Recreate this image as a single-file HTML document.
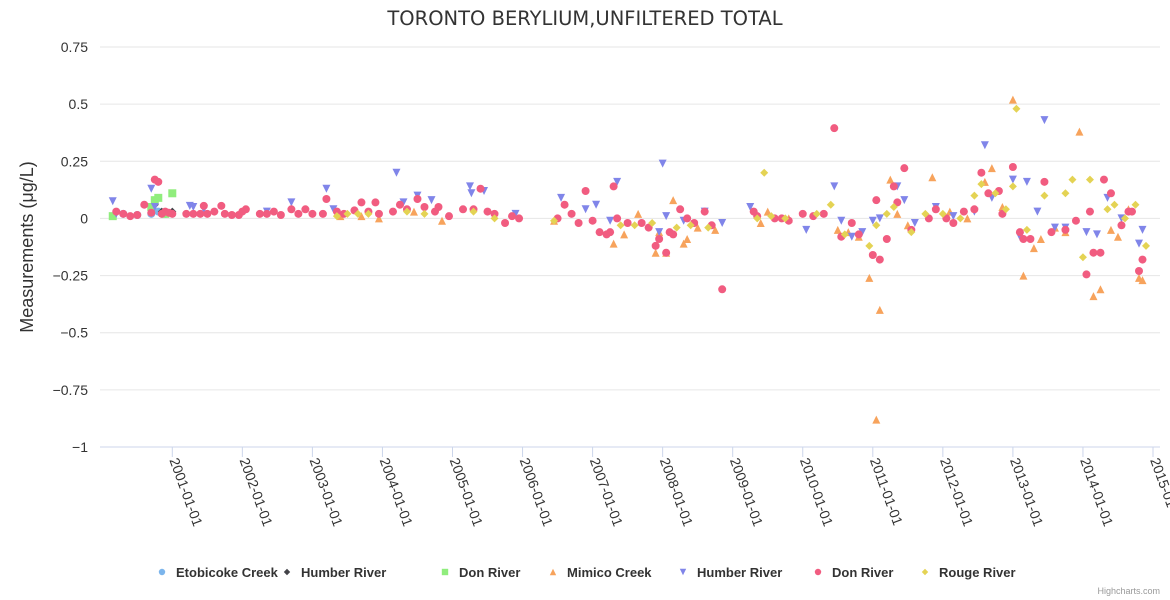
<!DOCTYPE html>
<html><head><meta charset="utf-8">
<style>
html,body{margin:0;padding:0;background:#fff;}
svg{display:block;font-family:"Liberation Sans","DejaVu Sans",sans-serif;}
</style></head>
<body>
<svg id="chart" width="1170" height="600" viewBox="0 0 1170 600">
<text x="585" y="25" text-anchor="middle" font-size="19.5" fill="#333" style="font-family:'DejaVu Sans',sans-serif">TORONTO BERYLIUM,UNFILTERED TOTAL</text>
<text transform="translate(33,247) rotate(-90)" text-anchor="middle" font-size="18" fill="#333">Measurements (μg/L)</text>
<g id="grid"></g><g id="xaxis"></g><g id="marks"></g><g id="legend"></g>
<text x="1160" y="594" text-anchor="end" font-size="9" fill="#999">Highcharts.com</text>
</svg>
<script>
const yTicks=[0.75,0.5,0.25,0,-0.25,-0.5,-0.75,-1];
const yTickLabels=["0.75","0.5","0.25","0","−0.25","−0.5","−0.75","−1"];
const xTickYears=[2001,2002,2003,2004,2005,2006,2007,2008,2009,2010,2011,2012,2013,2014,2015];
const xTickLabels=["2001-01-01","2002-01-01","2003-01-01","2004-01-01","2005-01-01","2006-01-01","2007-01-01","2008-01-01","2009-01-01","2010-01-01","2011-01-01","2012-01-01","2013-01-01","2014-01-01","2015-01-01"];
const seriesNames=["Etobicoke Creek","Humber River","Don River","Mimico Creek","Humber River","Don River","Rouge River"];
const etobicokeData=[[2000.3,0.02],[2000.5,0.015],[2000.7,0.02],[2000.8,0.03],[2000.9,0.02]];
const humberBlackData=[[2000.75,0.06],[2000.85,0.03],[2001.0,0.03]];
const donGreenData=[[2000.15,0.01],[2000.7,0.05],[2000.75,0.08],[2000.8,0.09],[2000.9,0.02],[2001.0,0.11]];
const mimicoData=[[2003.4,0.01],[2003.7,0.01],[2003.95,0.0],[2004.45,0.03],[2004.85,-0.01],[2006.45,-0.01],[2007.3,-0.11],[2007.45,-0.07],[2007.65,0.02],[2007.9,-0.15],[2007.95,-0.06],[2008.05,-0.15],[2008.15,0.08],[2008.3,-0.11],[2008.35,-0.09],[2008.5,-0.04],[2008.75,-0.05],[2009.4,-0.02],[2009.5,0.03],[2009.8,0.0],[2010.5,-0.05],[2010.65,-0.06],[2010.8,-0.08],[2010.95,-0.26],[2011.05,-0.88],[2011.1,-0.4],[2011.25,0.17],[2011.35,0.02],[2011.5,-0.03],[2011.85,0.18],[2012.1,0.03],[2012.35,0.0],[2012.6,0.16],[2012.7,0.22],[2012.85,0.05],[2013.0,0.52],[2013.15,-0.25],[2013.3,-0.13],[2013.4,-0.09],[2013.6,-0.04],[2013.75,-0.06],[2013.95,0.38],[2014.15,-0.34],[2014.25,-0.31],[2014.4,-0.05],[2014.5,-0.08],[2014.65,0.04],[2014.8,-0.26],[2014.85,-0.27]];
const humberData=[[2000.15,0.075],[2000.2,0.02],[2000.7,0.13],[2000.75,0.05],[2001.25,0.055],[2001.3,0.05],[2001.45,0.04],[2002.35,0.03],[2002.7,0.07],[2003.2,0.13],[2003.3,0.04],[2004.2,0.2],[2004.3,0.07],[2004.5,0.1],[2004.7,0.08],[2005.25,0.14],[2005.27,0.11],[2005.45,0.12],[2005.9,0.02],[2006.55,0.09],[2006.9,0.04],[2007.05,0.06],[2007.25,-0.01],[2007.35,0.16],[2007.95,-0.06],[2008.0,0.24],[2008.05,0.01],[2008.3,-0.01],[2008.6,0.03],[2008.85,-0.02],[2009.25,0.05],[2010.05,-0.05],[2010.45,0.14],[2010.55,-0.01],[2010.7,-0.08],[2010.85,-0.06],[2011.0,-0.01],[2011.1,0.0],[2011.35,0.14],[2011.45,0.08],[2011.6,-0.02],[2011.9,0.05],[2012.15,0.01],[2012.45,0.03],[2012.6,0.32],[2012.7,0.09],[2013.0,0.17],[2013.1,-0.08],[2013.2,0.16],[2013.35,0.03],[2013.45,0.43],[2013.6,-0.04],[2013.75,-0.04],[2014.05,-0.06],[2014.2,-0.07],[2014.35,0.09],[2014.55,0.0],[2014.8,-0.11],[2014.85,-0.05]];
const donData=[[2000.2,0.03],[2000.3,0.02],[2000.4,0.01],[2000.5,0.015],[2000.6,0.06],[2000.7,0.025],[2000.75,0.17],[2000.8,0.16],[2000.85,0.02],[2000.9,0.03],[2000.95,0.025],[2001.0,0.02],[2001.2,0.02],[2001.3,0.02],[2001.4,0.02],[2001.45,0.055],[2001.5,0.02],[2001.6,0.03],[2001.7,0.055],[2001.75,0.02],[2001.85,0.015],[2001.95,0.015],[2002.0,0.03],[2002.05,0.04],[2002.25,0.02],[2002.35,0.02],[2002.45,0.03],[2002.55,0.015],[2002.7,0.04],[2002.8,0.02],[2002.9,0.04],[2003.0,0.02],[2003.15,0.02],[2003.2,0.085],[2003.35,0.03],[2003.45,0.02],[2003.6,0.035],[2003.7,0.07],[2003.8,0.03],[2003.9,0.07],[2003.95,0.02],[2004.15,0.03],[2004.25,0.06],[2004.35,0.04],[2004.5,0.085],[2004.6,0.05],[2004.75,0.03],[2004.8,0.05],[2004.95,0.01],[2005.15,0.04],[2005.3,0.04],[2005.4,0.13],[2005.5,0.03],[2005.6,0.02],[2005.75,-0.02],[2005.85,0.01],[2005.95,0.0],[2006.5,0.0],[2006.6,0.06],[2006.7,0.02],[2006.8,-0.02],[2006.9,0.12],[2007.0,-0.01],[2007.1,-0.06],[2007.2,-0.07],[2007.25,-0.06],[2007.3,0.14],[2007.35,0.0],[2007.5,-0.02],[2007.7,-0.02],[2007.8,-0.04],[2007.9,-0.12],[2007.95,-0.09],[2008.05,-0.15],[2008.1,-0.06],[2008.15,-0.07],[2008.25,0.04],[2008.35,0.0],[2008.45,-0.02],[2008.6,0.03],[2008.7,-0.03],[2008.85,-0.31],[2009.3,0.03],[2009.35,0.01],[2009.6,0.0],[2009.7,0.0],[2009.8,-0.01],[2010.0,0.02],[2010.15,0.01],[2010.3,0.02],[2010.45,0.395],[2010.55,-0.08],[2010.7,-0.02],[2010.8,-0.07],[2011.0,-0.16],[2011.05,0.08],[2011.1,-0.18],[2011.2,-0.09],[2011.3,0.14],[2011.35,0.07],[2011.45,0.22],[2011.55,-0.05],[2011.8,0.0],[2011.9,0.04],[2012.05,0.0],[2012.15,-0.02],[2012.3,0.03],[2012.45,0.04],[2012.55,0.2],[2012.65,0.11],[2012.8,0.12],[2012.85,0.02],[2013.0,0.225],[2013.1,-0.06],[2013.15,-0.09],[2013.25,-0.09],[2013.45,0.16],[2013.55,-0.06],[2013.75,-0.05],[2013.9,-0.01],[2014.05,-0.245],[2014.1,0.03],[2014.15,-0.15],[2014.25,-0.15],[2014.3,0.17],[2014.4,0.11],[2014.55,-0.03],[2014.65,0.03],[2014.7,0.03],[2014.8,-0.23],[2014.85,-0.18]];
const rougeData=[[2003.35,0.01],[2003.5,0.02],[2003.65,0.02],[2003.8,0.02],[2004.35,0.03],[2004.6,0.02],[2005.3,0.03],[2005.6,0.0],[2006.45,-0.01],[2007.4,-0.03],[2007.6,-0.03],[2007.85,-0.02],[2008.2,-0.04],[2008.4,-0.03],[2008.65,-0.04],[2009.35,0.0],[2009.45,0.2],[2009.55,0.01],[2009.75,0.0],[2010.2,0.02],[2010.4,0.06],[2010.6,-0.07],[2010.95,-0.12],[2011.05,-0.03],[2011.2,0.02],[2011.3,0.05],[2011.55,-0.06],[2011.75,0.02],[2012.0,0.02],[2012.25,0.0],[2012.45,0.1],[2012.55,0.15],[2012.75,0.11],[2012.9,0.04],[2013.0,0.14],[2013.05,0.48],[2013.2,-0.05],[2013.45,0.1],[2013.75,0.11],[2013.85,0.17],[2014.0,-0.17],[2014.1,0.17],[2014.35,0.04],[2014.45,0.06],[2014.6,0.0],[2014.75,0.06],[2014.9,-0.12]];

const NS="http://www.w3.org/2000/svg";
const PL=100,PR=1160,PT=47,PB=447;
function yS(v){return PT+(0.75-v)*(PB-PT)/1.75;}
function xS(yr){return 172.3+(yr-2001)*70.05;}
function mk(tag,attrs,parent){const e=document.createElementNS(NS,tag);for(const k in attrs)e.setAttribute(k,attrs[k]);parent.appendChild(e);return e;}
const grid=document.getElementById('grid'),xa=document.getElementById('xaxis'),marks=document.getElementById('marks'),leg=document.getElementById('legend');
yTicks.forEach((v,i)=>{
  if(i<yTicks.length-1){const l=mk('line',{x1:PL,x2:PR,y1:yS(v),y2:yS(v),stroke:'#e6e6e6','stroke-width':1},grid);
  
  }
  const t=mk('text',{x:88,y:yS(v)+5,'text-anchor':'end','font-size':14,fill:'#333'},grid);t.textContent=yTickLabels[i];
  
  
});
const ax=mk('line',{x1:PL,x2:PR,y1:PB,y2:PB,stroke:'#ccd6eb','stroke-width':1},xa);


xTickYears.forEach((yr,i)=>{
  const x=xS(yr);
  const tk=mk('line',{x1:x,x2:x,y1:PB,y2:PB+10,stroke:'#ccd6eb'},xa);
  
  
  const t=mk('text',{transform:`translate(${x-3},${PB+13}) rotate(70)`,'font-size':14,fill:'#333'},xa);t.textContent=xTickLabels[i];
  
  
});
function shape(type,x,y,color,parent){
  let e;
  if(type==='circle')e=mk('circle',{cx:x,cy:y,r:4,fill:color},parent);
  else if(type==='diamond')e=mk('path',{d:`M${x},${y-4}L${x+4},${y}L${x},${y+4}L${x-4},${y}Z`,fill:color},parent);
  else if(type==='square')e=mk('rect',{x:x-4,y:y-4,width:8,height:8,fill:color},parent);
  else if(type==='tri')e=mk('path',{d:`M${x},${y-4}L${x+4},${y+4}L${x-4},${y+4}Z`,fill:color},parent);
  else e=mk('path',{d:`M${x-4},${y-4}L${x+4},${y-4}L${x},${y+4}Z`,fill:color},parent);
  return e;
}
const series=[
 {data:etobicokeData,type:'circle',color:'#7cb5ec',key:'etobicoke-creek'},
 {data:humberBlackData,type:'diamond',color:'#434348',key:'humber-river-diamond'},
 {data:donGreenData,type:'square',color:'#90ed7d',key:'don-river-square'},
 {data:mimicoData,type:'tri',color:'#f7a35c',key:'mimico-creek'},
 {data:humberData,type:'tridown',color:'#8085e9',key:'humber-river'},
 {data:donData,type:'circle',color:'#f15c80',key:'don-river'},
 {data:rougeData,type:'diamond',color:'#e4d354',key:'rouge-river'}];
series.forEach(s=>{
  const g=mk('g',{},marks);
  
  
  s.data.forEach(p=>{
    const e=shape(s.type,xS(p[0]),yS(p[1]),s.color,g);
    
    
  });
});
const legX=[162,287,445,553,683,818,925];
series.forEach((s,i)=>{
  const g=mk('g',{},leg);
  
  
  const sh=shape(s.type,legX[i],572,s.color,g);
  sh.setAttribute('transform',`translate(${legX[i]},572) scale(0.8) translate(${-legX[i]},-572)`);
  const t=mk('text',{x:legX[i]+14,y:577,'font-size':13,'font-weight':'bold',fill:'#333'},g);t.textContent=seriesNames[i];
});
</script>
</body></html>
